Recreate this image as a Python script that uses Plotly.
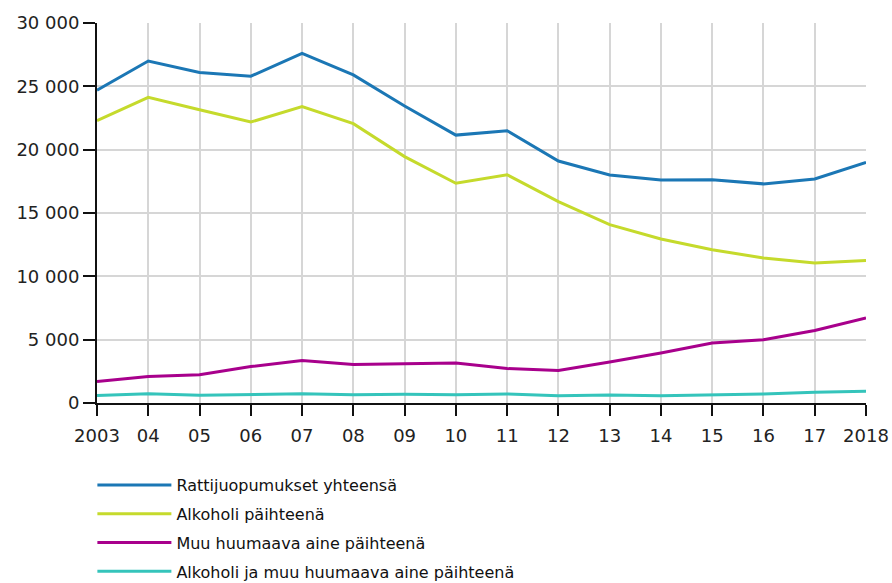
import plotly.graph_objects as go

years = list(range(2003, 2019))
year_labels = ["2003", "04", "05", "06", "07", "08", "09", "10", "11",
               "12", "13", "14", "15", "16", "17", "2018"]

total = [24700, 27000, 26100, 25800, 27600, 25900, 23450, 21150,
         21500, 19100, 18000, 17600, 17620, 17300, 17680, 19000]
alcohol = [22300, 24130, 23150, 22180, 23400, 22050, 19450, 17350,
           18020, 15900, 14080, 12950, 12100, 11450, 11050, 11250]
other_drug = [1700, 2100, 2230, 2880, 3350, 3030, 3100, 3150,
              2720, 2560, 3240, 3950, 4740, 5000, 5730, 6720]
both = [600, 730, 610, 680, 730, 660, 690, 660,
        710, 580, 630, 580, 650, 710, 840, 920]

series = [
    ("Rattijuopumukset yhteensä", total, "#1b77b5"),
    ("Alkoholi päihteenä", alcohol, "#c5da2c"),
    ("Muu huumaava aine päihteenä", other_drug, "#a8008c"),
    ("Alkoholi ja muu huumaava aine päihteenä", both, "#35c4bb"),
]

fig = go.Figure()
for i, (name, vals, color) in enumerate(series):
    fig.add_trace(go.Scatter(
        x=years, y=vals, name=name, mode="lines",
        line=dict(color=color, width=3),
        legendgroup=str(i),
    ))

fig.update_layout(
    width=892, height=583,
    margin=dict(l=97, r=26, t=23, b=180, autoexpand=False),
    paper_bgcolor="white", plot_bgcolor="white",
    font=dict(family="DejaVu Sans", size=18, color="#222222"),
    separators=", ",
    showlegend=True,
    legend=dict(
        orientation="v", x=-0.006, xanchor="left", y=-0.171, yanchor="top",
        font=dict(size=16, color="#111111"),
        tracegroupgap=5, itemwidth=74,
    ),
)
fig.update_xaxes(
    range=[2003, 2018], tickvals=years, ticktext=year_labels,
    showgrid=True, gridcolor="#d6d6d6", gridwidth=2,
    showline=True, linecolor="#111111", linewidth=2,
    ticks="outside", ticklen=11, tickwidth=2, tickcolor="#111111",
    ticklabelstandoff=4, ticklabeloverflow="allow",
    zeroline=False, automargin=False,
)
fig.update_yaxes(
    range=[0, 30000], dtick=5000, tickformat=",d",
    showgrid=True, gridcolor="#d6d6d6", gridwidth=2,
    showline=True, linecolor="#111111", linewidth=2,
    ticks="outside", ticklen=12, tickwidth=2, tickcolor="#111111",
    ticklabeloverflow="allow",
    zeroline=False, automargin=False,
)

# drop the default 8px body margin so the figure fills the window
fig.write_html(
    "out.html",
    config={"displayModeBar": False},
    post_script="document.body.style.margin = '0';",
)
